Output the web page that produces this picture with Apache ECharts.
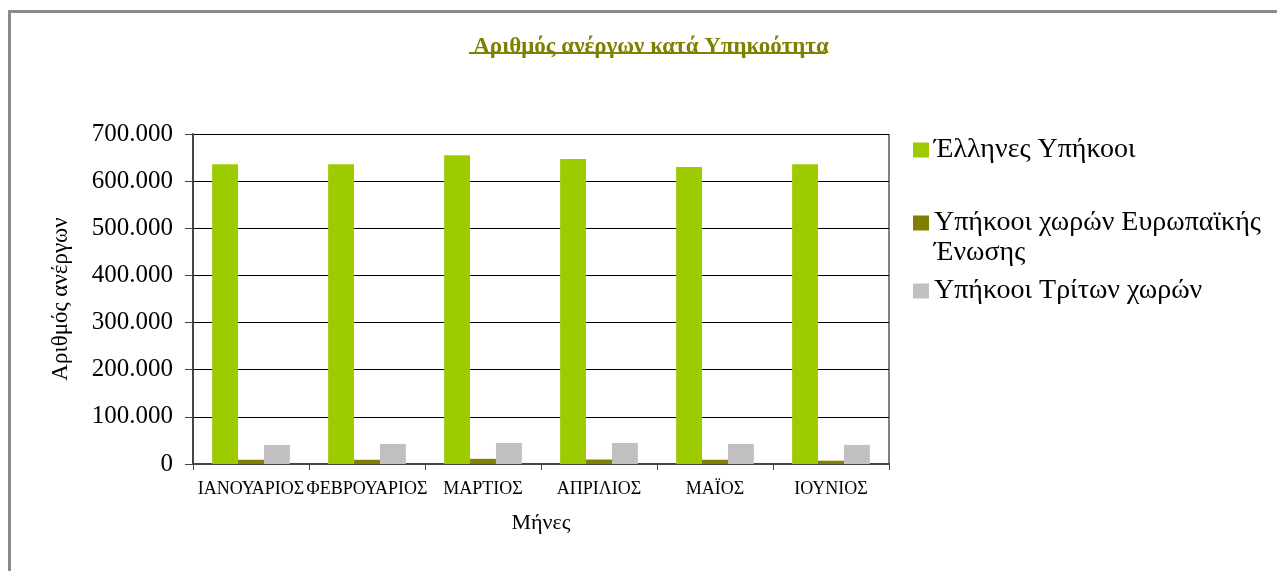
<!DOCTYPE html>
<html>
<head>
<meta charset="utf-8">
<script src="https://cdn.jsdelivr.net/npm/echarts@6/dist/echarts.min.js"></script>
<style>
  html, body { margin: 0; padding: 0; background: #fff; }
  #frame {
    position: absolute; left: 8px; top: 10px; width: 1300px; height: 600px;
    border-top: 3px solid #8a8a8a; border-left: 3px solid #8a8a8a;
  }
  #chart { position: absolute; left: 0; top: 0; width: 1277px; height: 571px; }
</style>
</head>
<body>
<div id="frame"></div>
<div id="chart"></div>
<script>
// months
const months = ['ΙΑΝΟΥΑΡΙΟΣ', 'ΦΕΒΡΟΥΑΡΙΟΣ', 'ΜΑΡΤΙΟΣ', 'ΑΠΡΙΛΙΟΣ', 'ΜΑΪΟΣ', 'ΙΟΥΝΙΟΣ'];

// series values
const greeks = [636000, 636000, 655000, 647000, 630000, 636000];
const euCitizens = [9000, 9000, 11000, 9500, 9000, 7000];
const thirdCountries = [40500, 42500, 44500, 44500, 42500, 40500];

const seriesNames = ['Έλληνες Υπήκοοι', 'Υπήκοοι χωρών Ευρωπαϊκής\nΈνωσης', 'Υπήκοοι Τρίτων χωρών'];
const seriesColors = ['#9ccc00', '#808000', '#c0c0c0'];

const serif = '"Liberation Serif", "DejaVu Serif", serif';

const chart = echarts.init(document.getElementById('chart'));

const fmt = v => v === 0 ? '0' : v.toString().replace(/\B(?=(\d{3})+(?!\d))/g, '.');

// one legend per item so the two-line entry can sit like the original
// (an empty first line keeps the marker level with the first text line)
const legendTops = [135, 178, 276];
const legends = seriesNames.map((n, i) => ({
    orient: 'vertical',
    left: 913,
    top: legendTops[i],
    padding: 0,
    itemWidth: 16,
    itemHeight: 15,
    itemGap: 5,
    icon: 'rect',
    formatter: name => (i === 1 ? '\n' + name : name),
    textStyle: {
        fontFamily: serif,
        fontSize: 28,
        color: '#000',
        lineHeight: 30
    },
    data: [n]
}));

const option = {
    animation: false,
    title: {
        text: 'Αριθμός ανέργων κατά Υπηκοότητα',
        left: 646,
        top: 31,
        textAlign: 'center',
        textStyle: {
            fontFamily: serif,
            fontSize: 23,
            fontWeight: 'bold',
            color: '#808000'
        }
    },
    graphic: [
        {
            // underline of the title
            type: 'rect',
            shape: { x: 469, y: 52, width: 357, height: 2 },
            style: { fill: '#808000' }
        },
        {
            // right-hand border of the plot area
            type: 'line',
            shape: { x1: 889, y1: 134, x2: 889, y2: 464 },
            style: { stroke: '#808080', lineWidth: 2 }
        }
    ],
    legend: legends,
    grid: {
        left: 193,
        right: 388,
        top: 134,
        bottom: 107
    },
    xAxis: {
        type: 'category',
        data: months,
        name: 'Μήνες',
        nameLocation: 'middle',
        nameGap: 48,
        nameTextStyle: { fontFamily: serif, fontSize: 22, color: '#000' },
        axisLine: { lineStyle: { color: '#444', width: 2 } },
        axisTick: { show: true, length: 6, lineStyle: { color: '#444' } },
        axisLabel: { fontFamily: serif, fontSize: 18, color: '#000', margin: 16, interval: 0 }
    },
    yAxis: {
        type: 'value',
        min: 0,
        max: 700000,
        interval: 100000,
        name: 'Αριθμός ανέργων',
        nameLocation: 'middle',
        nameGap: 121,
        nameTextStyle: { fontFamily: serif, fontSize: 23, color: '#000' },
        axisLine: { show: true, lineStyle: { color: '#444', width: 2 } },
        axisTick: { show: true, length: 8, lineStyle: { color: '#444' } },
        axisLabel: {
            fontFamily: serif, fontSize: 25, color: '#000', margin: 20,
            formatter: fmt
        },
        splitLine: { lineStyle: { color: '#000', width: 1 } }
    },
    series: [
        {
            name: seriesNames[0],
            type: 'bar',
            data: greeks,
            itemStyle: { color: seriesColors[0] },
            barGap: '0%',
            barCategoryGap: '33%'
        },
        {
            name: seriesNames[1],
            type: 'bar',
            data: euCitizens,
            itemStyle: { color: seriesColors[1] }
        },
        {
            name: seriesNames[2],
            type: 'bar',
            data: thirdCountries,
            itemStyle: { color: seriesColors[2] }
        }
    ]
};

option && chart.setOption(option);
</script>
</body>
</html>
